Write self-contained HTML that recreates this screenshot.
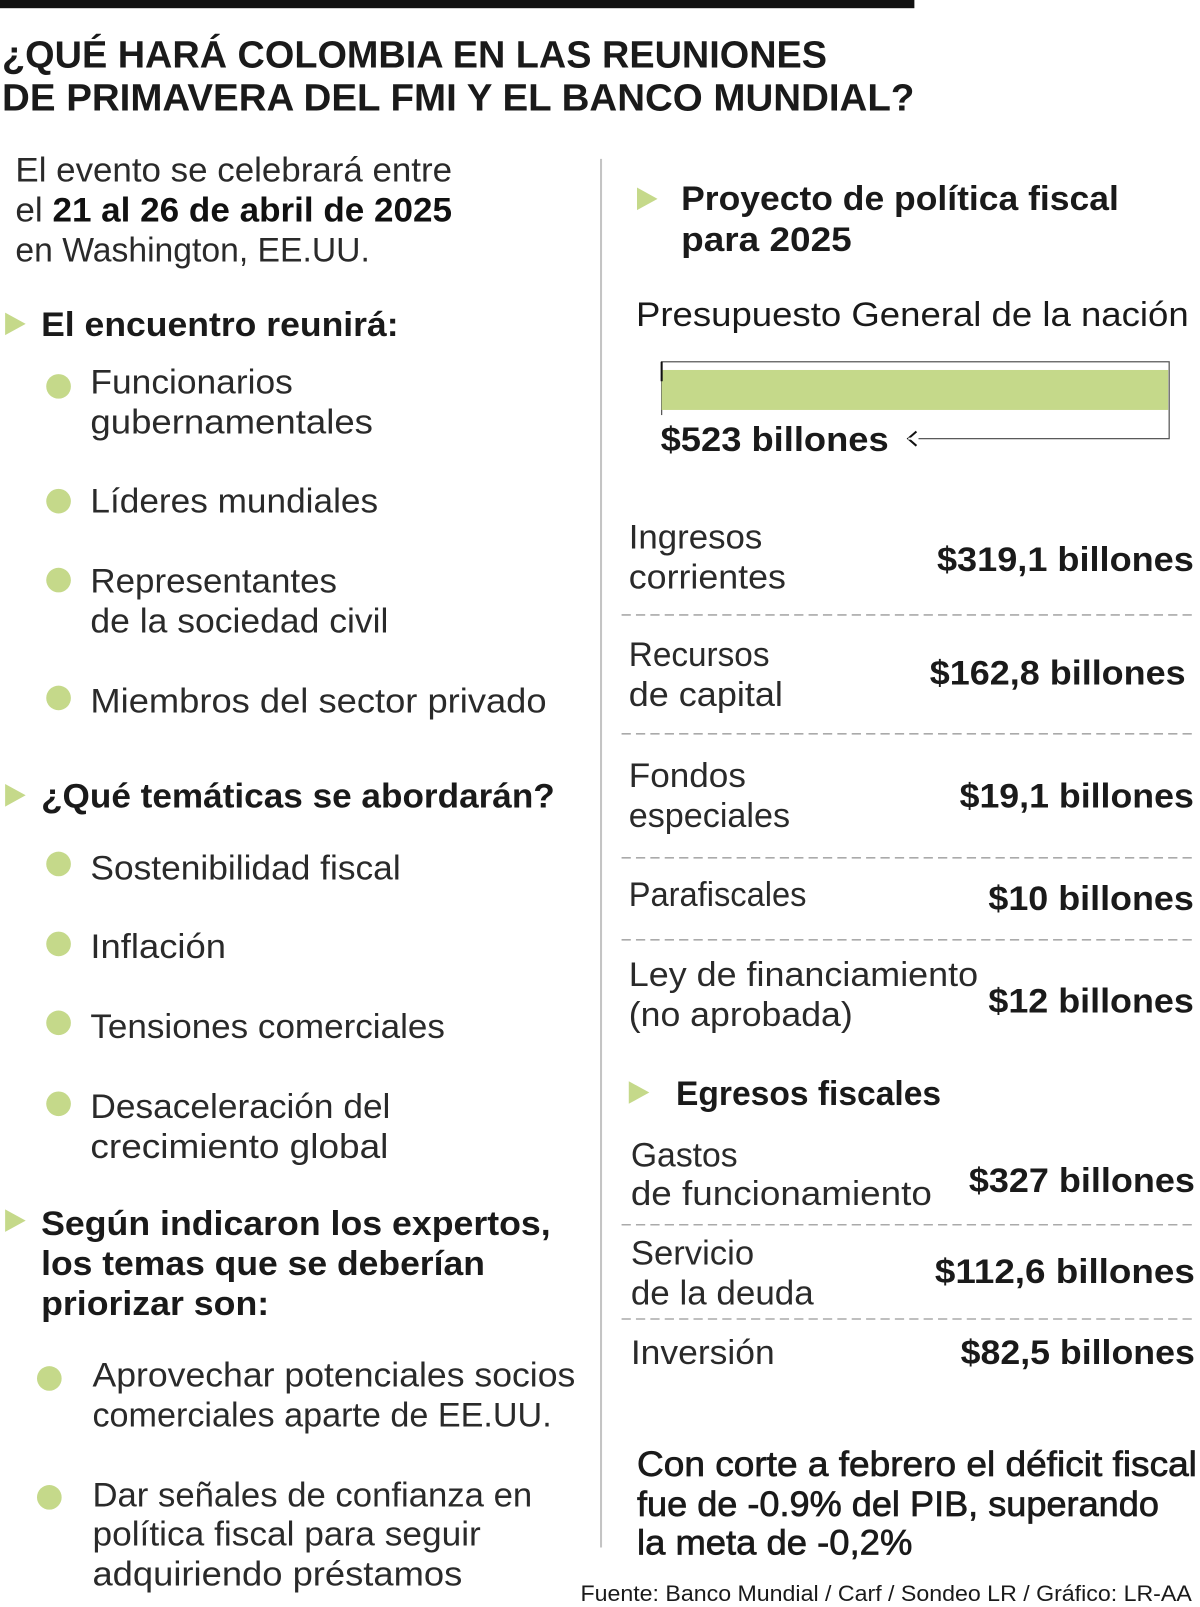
<!DOCTYPE html>
<html><head><meta charset="utf-8"><style>
html,body{margin:0;padding:0;background:#fff;}
svg{display:block;}
text{font-family:"Liberation Sans",sans-serif;fill:#1a1a1a;}
.b{font-weight:bold;}
.r{font-size:33px;fill:#2a2a2a;}
</style></head><body>
<svg id="s" width="1200" height="1607" viewBox="0 0 1168 1568" preserveAspectRatio="none">
<rect x="0" y="0" width="890" height="8" fill="#111"/>
<text class="b" x="2" y="66" font-size="37" textLength="803" lengthAdjust="spacingAndGlyphs">¿QUÉ HARÁ COLOMBIA EN LAS REUNIONES</text>
<text class="b" x="2" y="108" font-size="37" textLength="888" lengthAdjust="spacingAndGlyphs">DE PRIMAVERA DEL FMI Y EL BANCO MUNDIAL?</text>
<line x1="585" y1="155" x2="585" y2="1510" stroke="#c4c4c4" stroke-width="2"/>
<g id="left"></g>
<g id="right"></g>
</svg>
<script>
// Budget data
var budgetLabel = ["Presupuesto General de la nación"];
var budgetTotal = [523];
var budgetMax = 523;
var incomeLabels = [["Ingresos","corrientes"],["Recursos","de capital"],["Fondos","especiales"],["Parafiscales"],["Ley de financiamiento","(no aprobada)"]];
var incomeValues = ["$319,1 billones","$162,8 billones","$19,1 billones","$10 billones","$12 billones"];
var expenseLabels = [["Gastos","de funcionamiento"],["Servicio","de la deuda"],["Inversión"]];
var expenseValues = ["$327 billones","$112,6 billones","$82,5 billones"];

var NS="http://www.w3.org/2000/svg";
var svg=document.getElementById('s');
var L=document.getElementById('left'), R=document.getElementById('right');
function el(tag,attrs,parent){var e=document.createElementNS(NS,tag);for(var k in attrs)e.setAttribute(k,attrs[k]);(parent||svg).appendChild(e);return e;}
function txt(parent,x,y,s,len,cls,size,anchor){var t=el('text',{x:x,y:y,'font-size':size||33},parent);if(cls)t.setAttribute('class',cls);if(len){t.setAttribute('textLength',len);t.setAttribute('lengthAdjust','spacingAndGlyphs');}if(anchor)t.setAttribute('text-anchor',anchor);t.textContent=s;return t;}
function tri(parent,x,y){var p=el('polygon',{points:x+','+y+' '+(x+20)+','+(y+11)+' '+x+','+(y+22),fill:'#c5d98a'},parent);return p;}
function dot(parent,x,y){return el('circle',{cx:x,cy:y,r:12,fill:'#c5d98a'},parent);}

var t;
t=txt(L,15,177,"El evento se celebrará entre",425,'r');


t=el('text',{x:15,y:216,'font-size':33,textLength:425,lengthAdjust:'spacingAndGlyphs','class':'r'},L);
t.innerHTML='el <tspan font-weight="bold" fill="#111">21 al 26 de abril de 2025</tspan>';


t=txt(L,15,255,"en Washington, EE.UU.",345,'r');



var heads=[[305,[["El encuentro reunirá:",328,348]]],[765,[["¿Qué temáticas se abordarán?",788,500]]],[1180,[["Según indicaron los expertos,",1205,496],["los temas que se deberían",1244,432],["priorizar son:",1283,222]]]];
heads.forEach(function(h,i){var m=tri(L,5,h[0]);


h[1].forEach(function(l){var tt=txt(L,40,l[1],l[0],l[2],'b',33);

});});

var bullets=[[57,377,88,[["Funcionarios",384,197],["gubernamentales",423,275]]],[57,489,88,[["Líderes mundiales",500,280]]],[57,566,88,[["Representantes",578,240],["de la sociedad civil",617,290]]],[57,681,88,[["Miembros del sector privado",695,444]]],
[57,843,88,[["Sostenibilidad fiscal",858,302]]],[57,921,88,[["Inflación",935,132]]],[57,998,88,[["Tensiones comerciales",1013,345]]],[57,1077,88,[["Desaceleración del",1091,292],["crecimiento global",1130,290]]],
[48,1345,90,[["Aprovechar potenciales socios",1353,470],["comerciales aparte de EE.UU.",1392,447]]],[48,1461,90,[["Dar señales de confianza en",1470,428],["política fiscal para seguir",1508,378],["adquiriendo préstamos",1547,360]]]];
bullets.forEach(function(b){var d=dot(L,b[0],b[1]);


b[3].forEach(function(l){var tt=txt(L,b[2],l[1],l[0],l[2],'r');

});});

var m=tri(R,620,183);


t=txt(R,663,205,"Proyecto de política fiscal",426,'b',33);


t=txt(R,663,245,"para 2025",166,'b',33);


t=txt(R,619,318,budgetLabel[0],538,null,33);


var x0=644,x1=1138,barW=(budgetTotal[0]/budgetMax)*(x1-x0-1);
var box=el('rect',{x:x0,y:353,width:x1-x0,height:75,fill:'none',stroke:'#555','stroke-width':1.2},R);


var bar=el('rect',{x:x0,y:361,width:barW,height:39,fill:'#c5d98a'},R);


el('line',{x1:x0,y1:353,x2:x0,y2:372,stroke:'#111','stroke-width':2},R);
var cover=el('rect',{x:x0-2,y:405,width:245,height:40,fill:'#fff'},R);
var ar=el('path',{d:'M892,421 L884,428 L892,435',fill:'none',stroke:'#111','stroke-width':2},R);


el('rect',{x:884,y:427,width:10,height:2,fill:'#fff'},R);
t=txt(R,643,440,'$'+budgetTotal[0]+' billones',222,'b',33);



var lw={"Ingresos":130,"corrientes":153,"Recursos":137,"de capital":150,"Fondos":114,"especiales":157,"Parafiscales":173,"Ley de financiamiento":340,"(no aprobada)":218,"Gastos":104,"de funcionamiento":293,"Servicio":120,"de la deuda":178,"Inversión":140};
var vw={"$319,1 billones":250,"$162,8 billones":249,"$19,1 billones":228,"$10 billones":200,"$12 billones":200,"$327 billones":220,"$112,6 billones":253,"$82,5 billones":228};
var incRows=[[[535,574],557,1162,600],[[650,689],668,1154,716],[[768,807],788,1162,837],[[884],888,1162,917],[[962,1001],988,1162,null]];
incomeLabels.forEach(function(lbls,i){var r=incRows[i];
lbls.forEach(function(s,j){var tt=txt(R,612,r[0][j],s,lw[s],'r');

});
var v=txt(R,r[2]-vw[incomeValues[i]],r[1],incomeValues[i],vw[incomeValues[i]],'b',33);


if(r[3]){var dl=el('line',{x1:605,y1:r[3],x2:1165,y2:r[3],stroke:'#aaa','stroke-width':1.5,'stroke-dasharray':'9 5'},R);

}});

m=tri(R,612,1055);


t=txt(R,658,1078,"Egresos fiscales",258,'b',33);


var expRows=[[[1138,1176],1163,1163,1195],[[1234,1273],1252,1163,1287],[[1331],1331,1163,null]];
expenseLabels.forEach(function(lbls,i){var r=expRows[i];
lbls.forEach(function(s,j){var tt=txt(R,614,r[0][j],s,lw[s],'r');

});
var v=txt(R,r[2]-vw[expenseValues[i]],r[1],expenseValues[i],vw[expenseValues[i]],'b',33);


if(r[3]){var dl=el('line',{x1:605,y1:r[3],x2:1165,y2:r[3],stroke:'#aaa','stroke-width':1.5,'stroke-dasharray':'9 5'},R);

}});

var notes=[["Con corte a febrero el déficit fiscal",1440,545],["fue de -0.9% del PIB, superando",1479,508],["la meta de -0,2%",1517,268]];
notes.forEach(function(n){var tt=txt(R,620,n[1],n[0],n[2],null,34);
tt.setAttribute('stroke','#1a1a1a');tt.setAttribute('stroke-width','0.7');

});
t=txt(R,565,1562,"Fuente: Banco Mundial / Carf / Sondeo LR / Gráfico: LR-AA",595,null,22);


</script>
</body></html>
